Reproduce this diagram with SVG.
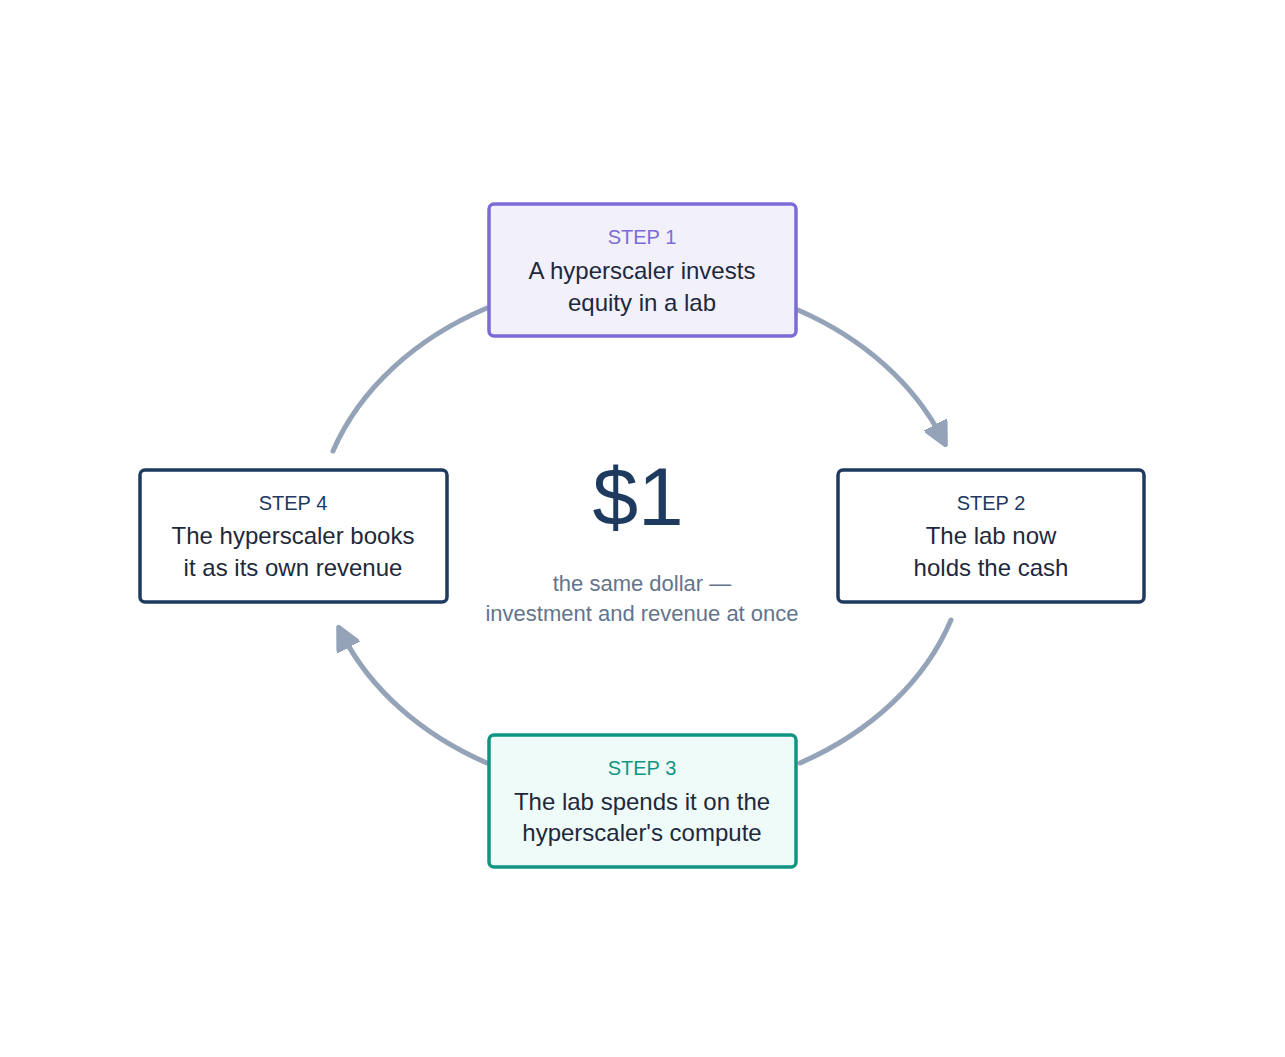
<svg xmlns="http://www.w3.org/2000/svg" width="1285" height="1057" viewBox="0 0 1285 1057">
<style>
text{font-family:"Liberation Sans",Arial,sans-serif;text-anchor:middle}
.lbl{font-size:20px}
.body{font-size:24px;fill:#1e293b}
.box{stroke-width:3.5}
.arc{fill:none;stroke:#94a3b8;stroke-width:5;stroke-linecap:round}
</style>
<defs>
<marker id="ah" viewBox="0 0 10 10" refX="6" refY="5" markerWidth="5" markerHeight="5" orient="auto" markerUnits="strokeWidth">
<path d="M0,0 L10,5 L0,10 Z" fill="#94a3b8" stroke="#94a3b8" stroke-linejoin="round"/>
</marker>
</defs>
<rect width="1285" height="1057" fill="#fff"/>
<g id="connectors">
<path class="arc" d="M798,310 A326,256 0 0 1 942,438" marker-end="url(#ah)"/>
<path class="arc" d="M951,620 A326,256 0 0 1 800,763"/>
<path class="arc" d="M487,763 A326,256 0 0 1 342,634" marker-end="url(#ah)"/>
<path class="arc" d="M333,451 A326,256 0 0 1 487,308"/>
</g>
<g id="step1">
<rect class="box" x="489" y="204" width="307" height="132" rx="5" fill="#f2f0fb" stroke="#7c6bd6"/>
<text class="lbl" x="642" y="244" fill="#7c6bd6">STEP 1</text>
<text class="body" x="642" y="279">A hyperscaler invests</text>
<text class="body" x="642" y="311">equity in a lab</text>
</g>
<g id="step2">
<rect class="box" x="838" y="470" width="306" height="132" rx="5" fill="#fff" stroke="#1e3a5f"/>
<text class="lbl" x="991" y="510" fill="#1e3a5f">STEP 2</text>
<text class="body" x="991" y="544">The lab now</text>
<text class="body" x="991" y="576">holds the cash</text>
</g>
<g id="step3">
<rect class="box" x="489" y="735" width="307" height="132" rx="5" fill="#effbf8" stroke="#0f9582"/>
<text class="lbl" x="642" y="775" fill="#0f9582">STEP 3</text>
<text class="body" x="642" y="810">The lab spends it on the</text>
<text class="body" x="642" y="841">hyperscaler's compute</text>
</g>
<g id="step4">
<rect class="box" x="140" y="470" width="307" height="132" rx="5" fill="#fff" stroke="#1e3a5f"/>
<text class="lbl" x="293" y="510" fill="#1e3a5f">STEP 4</text>
<text class="body" x="293" y="544">The hyperscaler books</text>
<text class="body" x="293" y="576">it as its own revenue</text>
</g>
<g id="center">
<text x="638" y="525" font-size="82" fill="#1e3a5f">$1</text>
<text x="642" y="591" font-size="22" fill="#64748b">the same dollar —</text>
<text x="642" y="621" font-size="22" fill="#64748b">investment and revenue at once</text>
</g>
</svg>
